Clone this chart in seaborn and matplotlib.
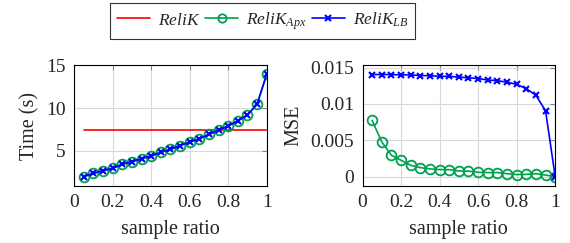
import numpy as np
import pandas as pd
import seaborn as sns
import matplotlib
matplotlib.use("Agg")
import matplotlib.pyplot as plt
from matplotlib.lines import Line2D

ratio = [0.05, 0.10, 0.15, 0.20, 0.25, 0.30, 0.35, 0.40, 0.45, 0.50,
         0.55, 0.60, 0.65, 0.70, 0.75, 0.80, 0.85, 0.90, 0.95, 1.00]
time_relik = [7.45, 7.45]
time_relik_x = [0.05, 1.0]
time_apx = [1.95, 2.34, 2.65, 2.93, 3.4, 3.7, 4.06, 4.38, 4.8, 5.15,
            5.6, 6.0, 6.4, 6.9, 7.4, 7.9, 8.5, 9.2, 10.45, 14.0]
time_lb = time_apx
mse_apx = [0.00773, 0.00476, 0.00293, 0.00224, 0.00155, 0.00123, 0.00105,
           0.00096, 0.00095, 0.00077, 0.00075, 0.00059, 0.00055, 0.00055,
           0.00040, 0.00027, 0.00030, 0.00040, 0.00020, 0.0]
mse_lb = [0.01405, 0.01405, 0.01405, 0.0140, 0.0140, 0.0139, 0.0139, 0.0138,
          0.0138, 0.0137, 0.0136, 0.0135, 0.0133, 0.0132, 0.0130, 0.0127,
          0.0121, 0.0112, 0.00906, 0.0]

sns.set_style("white")
plt.rcParams['font.family'] = ['Liberation Serif', 'DejaVu Serif']
plt.rcParams['mathtext.fontset'] = 'custom'
plt.rcParams['mathtext.it'] = 'Liberation Serif:italic'
plt.rcParams['mathtext.rm'] = 'Liberation Serif'

RED = '#ff0000'
GREEN = '#00a050'
BLUE = '#0000ff'

fig = plt.figure(figsize=(5.7, 2.43), dpi=100)
ax1 = fig.add_axes([0.130, 0.2346, 0.338, 0.496])
ax2 = fig.add_axes([0.636, 0.2346, 0.338, 0.496])

df_r = pd.DataFrame({'x': time_relik_x, 'y': time_relik})
df_t = pd.DataFrame({'x': ratio, 'apx': time_apx, 'lb': time_lb,
                     'mapx': mse_apx, 'mlb': mse_lb})

sns.lineplot(data=df_r, x='x', y='y', ax=ax1, color=RED, lw=1.2)
sns.lineplot(data=df_t, x='x', y='apx', ax=ax1, color=GREEN, lw=1.2,
             marker='o', markersize=7, markerfacecolor='none',
             markeredgecolor=GREEN, markeredgewidth=1.3)
sns.lineplot(data=df_t, x='x', y='lb', ax=ax1, color=BLUE, lw=1.2,
             marker='x', markersize=5, markeredgecolor=BLUE, markeredgewidth=1.5)

sns.lineplot(data=df_t, x='x', y='mapx', ax=ax2, color=GREEN, lw=1.2,
             marker='o', markersize=7, markerfacecolor='none',
             markeredgecolor=GREEN, markeredgewidth=1.3)
sns.lineplot(data=df_t, x='x', y='mlb', ax=ax2, color=BLUE, lw=1.2,
             marker='x', markersize=5, markeredgecolor=BLUE, markeredgewidth=1.5)

ax1.set_xlim(0, 1)
ax1.set_ylim(0.85, 15)
ax1.set_yticks([5, 10, 15])
ax1.set_yticklabels(['5', '10', '15'])
ax2.set_xlim(0, 1)
ax2.set_ylim(-0.0013, 0.0153)
ax2.set_yticks([0, 0.005, 0.01, 0.015])
ax2.set_yticklabels(['0', '0.005', '0.01', '0.015'])

xt = [0, 0.2, 0.4, 0.6, 0.8, 1]
xl = ['0', '0.2', '0.4', '0.6', '0.8', '1']
for ax, yl in ((ax1, 'Time (s)'), (ax2, 'MSE')):
    ax.set_xticks(xt)
    ax.set_xticklabels(xl)
    ax.grid(True, color='#d9d9d9', lw=0.8)
    ax.set_axisbelow(True)
    ax.tick_params(direction='in', length=3.5, width=0.8, color='#808080',
                   top=True, right=True, labelsize=14, pad=6)
    for s in ax.spines.values():
        s.set_color('black')
        s.set_linewidth(0.8)
    ax.set_xlabel('sample ratio', fontsize=14.5, labelpad=6)
    ax.set_ylabel(yl, fontsize=14.5, labelpad=5)

handles = [
    Line2D([], [], color=RED, lw=1.2),
    Line2D([], [], color=GREEN, lw=1.2, marker='o', markersize=6,
           markerfacecolor='none', markeredgecolor=GREEN, markeredgewidth=1.3),
    Line2D([], [], color=BLUE, lw=1.2, marker='x', markersize=5,
           markeredgecolor=BLUE, markeredgewidth=1.5),
]
labels = [r'$ReliK$', r'$ReliK_{Apx}$', r'$ReliK_{LB}$']
leg = fig.legend(handles, labels, loc='center', bbox_to_anchor=(0.4605, 0.913),
                 ncol=3, frameon=True, fancybox=False, fontsize=12.5,
                 handlelength=1.9, handletextpad=0.45, columnspacing=0.3,
                 borderpad=0.4)
leg.get_frame().set_edgecolor('black')
leg.get_frame().set_linewidth(0.8)

fig.savefig('out.png', dpi=100)
